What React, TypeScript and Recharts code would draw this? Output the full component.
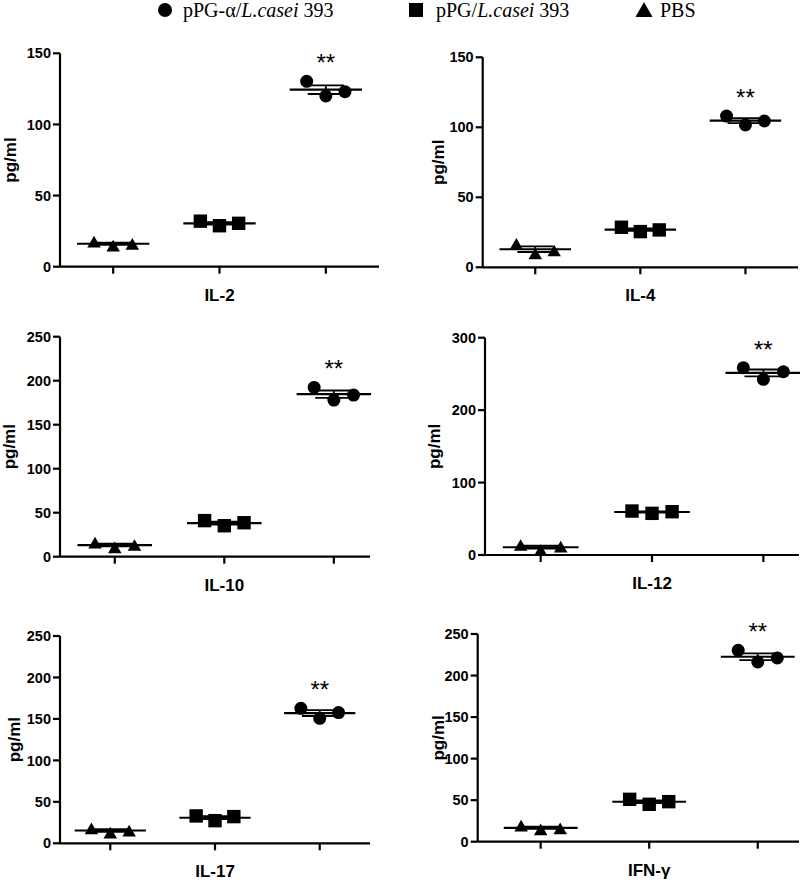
import React from 'react'
import { ReferenceDot, ReferenceLine, Scatter, ScatterChart, XAxis, YAxis } from 'recharts'

// group order on the x axis: PBS, pPG/L.casei393, pPG-α/L.casei393
const groupCenters = [0.5, 1.5, 2.5]
const spread = [-0.18, 0, 0.18]

const il2Pbs = [17.6, 14.8, 16]
const il2Ppg = [32, 28.8, 30.5]
const il2Alpha = [130.3, 120, 123]

const il4Pbs = [16.7, 10, 12]
const il4Ppg = [28.6, 25.5, 26.7]
const il4Alpha = [108, 101.7, 104.5]

const il10Pbs = [15.9, 10.6, 13.3]
const il10Ppg = [41, 35.2, 38.6]
const il10Alpha = [192.4, 178, 183.7]

const il12Pbs = [13.8, 6.9, 11.5]
const il12Ppg = [60.7, 57.5, 59.8]
const il12Alpha = [258.6, 242.5, 253]

const il17Pbs = [18.1, 12.9, 15.3]
const il17Ppg = [33, 27.3, 32.2]
const il17Alpha = [162.8, 150.7, 157.6]

const ifnPbs = [19.3, 14.8, 16.1]
const ifnPpg = [51, 45, 48.2]
const ifnAlpha = [230.4, 216.3, 221.2]

const ticks150 = [0, 50, 100, 150]
const ticks250 = [0, 50, 100, 150, 200, 250]
const ticks300 = [0, 100, 200, 300]

type Panel = {
  name: string
  values: number[][]
  yTicks: number[]
  left: number
  top: number
  height: number
  yAxisWidth: number
  margin: { top: number; right: number; bottom: number; left: number }
  xDomain: [number, number]
  labelX: number
}

const panels: Panel[] = [
  { name: 'IL-2', values: [il2Pbs, il2Ppg, il2Alpha], yTicks: ticks150, left: 0, top: 30, height: 280, yAxisWidth: 60, margin: { top: 23.3, right: 21, bottom: 3.3, left: 0 }, xDomain: [0, 3], labelX: 9.5 },
  { name: 'IL-4', values: [il4Pbs, il4Ppg, il4Alpha], yTicks: ticks150, left: 400, top: 30, height: 280, yAxisWidth: 82.7, margin: { top: 27.3, right: 2, bottom: 2.7, left: 0 }, xDomain: [0, 3], labelX: 37.5 },
  { name: 'IL-10', values: [il10Pbs, il10Ppg, il10Alpha], yTicks: ticks250, left: 0, top: 310, height: 290, yAxisWidth: 60, margin: { top: 26.7, right: 30, bottom: 3.3, left: 0 }, xDomain: [0, 2.83], labelX: 9 },
  { name: 'IL-12', values: [il12Pbs, il12Ppg, il12Alpha], yTicks: ticks300, left: 400, top: 310, height: 290, yAxisWidth: 85, margin: { top: 27.7, right: 1, bottom: 5, left: 0 }, xDomain: [0, 2.82], labelX: 34 },
  { name: 'IL-17', values: [il17Pbs, il17Ppg, il17Alpha], yTicks: ticks250, left: 0, top: 600, height: 285, yAxisWidth: 60, margin: { top: 36, right: 30, bottom: 1.7, left: 0 }, xDomain: [0.02, 2.98], labelX: 14 },
  { name: 'IFN-γ', values: [ifnPbs, ifnPpg, ifnAlpha], yTicks: ticks250, left: 400, top: 600, height: 285, yAxisWidth: 77.7, margin: { top: 34, right: 1, bottom: 3.3, left: 0 }, xDomain: [-0.08, 2.88], labelX: 37.5 },
]

const mean = (a: number[]) => a.reduce((s, v) => s + v, 0) / a.length
const sem = (a: number[]) => {
  const m = mean(a)
  const sd = Math.sqrt(a.reduce((s, v) => s + (v - m) ** 2, 0) / (a.length - 1))
  return sd / Math.sqrt(a.length)
}

const TriangleShape = (p: any) => {
  const s = 13.5
  const h = s * 0.866
  return (
    <polygon
      points={`${p.cx},${p.cy - h / 2} ${p.cx - s / 2},${p.cy + h / 2} ${p.cx + s / 2},${p.cy + h / 2}`}
      fill="#000"
    />
  )
}
const SquareShape = (p: any) => <rect x={p.cx - 6.7} y={p.cy - 6.7} width={13.4} height={13.4} fill="#000" />
const CircleShape = (p: any) => <circle cx={p.cx} cy={p.cy} r={6.5} fill="#000" />
const shapes = [TriangleShape, SquareShape, CircleShape]

const black = '#000'

function CytokinePanel({ panel }: { panel: Panel }) {
  const yMax = panel.yTicks[panel.yTicks.length - 1]
  const alpha = panel.values[2]
  return (
    <div style={{ position: 'absolute', left: panel.left, top: panel.top }}>
      <ScatterChart width={400} height={panel.height} margin={panel.margin}>
        <XAxis
          type="number"
          dataKey="x"
          domain={panel.xDomain}
          allowDataOverflow
          ticks={groupCenters}
          interval={0}
          tickFormatter={(v) => (v === 1.5 ? panel.name : '')}
          height={40}
          tickSize={7}
          tickMargin={15}
          axisLine={{ stroke: black, strokeWidth: 2.2 }}
          tickLine={{ stroke: black, strokeWidth: 2.2 }}
          tick={{ fontSize: 17, fontWeight: 'bold', fill: black }}
        />
        <YAxis
          type="number"
          dataKey="y"
          domain={[0, yMax]}
          allowDataOverflow
          ticks={panel.yTicks}
          interval={0}
          width={panel.yAxisWidth}
          tickSize={7}
          tickMargin={2}
          axisLine={{ stroke: black, strokeWidth: 2.2 }}
          tickLine={{ stroke: black, strokeWidth: 2.2 }}
          tick={{ fontSize: 14.5, fontWeight: 'bold', fill: black }}
          label={{
            value: 'pg/ml',
            angle: -90,
            position: 'insideLeft',
            offset: panel.labelX,
            style: { textAnchor: 'middle', fontSize: 17, fontWeight: 'bold', fill: black },
          }}
        />
        {panel.values.map((vals, gi) => {
          const c = groupCenters[gi]
          const m = mean(vals)
          const e = sem(vals)
          return (
            <React.Fragment key={`lines-${gi}`}>
              <ReferenceLine
                segment={[{ x: c - 0.34, y: m }, { x: c + 0.34, y: m }]}
                stroke={black}
                strokeWidth={2.2}
                ifOverflow="visible"
              />
              <ReferenceLine
                segment={[{ x: c - 0.17, y: m + e }, { x: c + 0.17, y: m + e }]}
                stroke={black}
                strokeWidth={1.8}
                ifOverflow="visible"
              />
              <ReferenceLine
                segment={[{ x: c - 0.17, y: m - e }, { x: c + 0.17, y: m - e }]}
                stroke={black}
                strokeWidth={1.8}
                ifOverflow="visible"
              />
              <ReferenceLine
                segment={[{ x: c, y: m - e }, { x: c, y: m + e }]}
                stroke={black}
                strokeWidth={1.8}
                ifOverflow="visible"
              />
            </React.Fragment>
          )
        })}
        {panel.values.map((vals, gi) => (
          <Scatter
            key={`pts-${gi}`}
            data={vals.map((v, i) => ({ x: groupCenters[gi] + spread[i], y: v }))}
            shape={shapes[gi]}
            isAnimationActive={false}
          />
        ))}
        <ReferenceDot
          x={groupCenters[2]}
          y={Math.max(...alpha)}
          r={0}
          fill="none"
          stroke="none"
          ifOverflow="visible"
          label={{ value: '**', position: 'top', offset: 10, fontSize: 24, fill: black }}
        />
      </ScatterChart>
    </div>
  )
}

const serif = '"Liberation Serif", "Times New Roman", serif'
const legendText: React.CSSProperties = {
  position: 'absolute',
  top: 0,
  fontFamily: serif,
  fontSize: 20,
  lineHeight: '20px',
  whiteSpace: 'nowrap',
}

export default function App() {
  return (
    <div
      style={{
        position: 'absolute',
        left: 0,
        top: 0,
        width: 800,
        height: 885,
        background: '#fff',
        fontFamily: '"Liberation Sans", Arial, sans-serif',
      }}
    >
      {/* shared legend */}
      <svg style={{ position: 'absolute', left: 0, top: 0 }} width={800} height={22}>
        <circle cx={165} cy={10} r={7} fill={black} />
        <rect x={409} y={3} width={14} height={14} fill={black} />
        <polygon points="644,2 635.5,17 652.5,17" fill={black} />
      </svg>
      <div style={{ ...legendText, left: 183 }}>
        pPG-α/<i>L.casei</i> 393
      </div>
      <div style={{ ...legendText, left: 436 }}>
        pPG/<i>L.casei</i> 393
      </div>
      <div style={{ ...legendText, left: 660 }}>PBS</div>
      {panels.map((p) => (
        <CytokinePanel key={p.name} panel={p} />
      ))}
    </div>
  )
}
